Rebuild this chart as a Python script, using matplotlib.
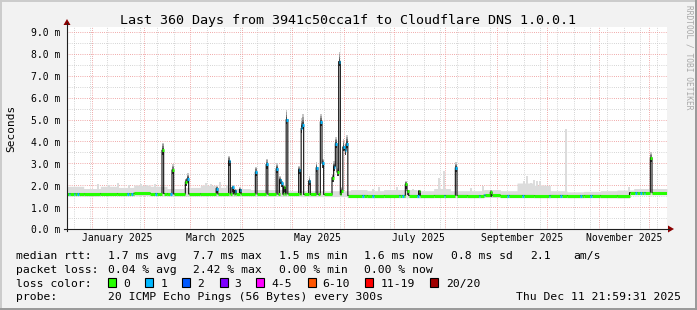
import numpy as np
import matplotlib
matplotlib.use("Agg")
import matplotlib.pyplot as plt
import matplotlib.transforms as mtrans
from matplotlib.patches import Rectangle, Polygon
from matplotlib.lines import Line2D
from datetime import datetime, timedelta

# ---------------- data ----------------
END_TIME = datetime(2025, 12, 11, 21, 59, 31)
SPAN_DAYS = 360
TITLE = "Last 360 Days from 3941c50cca1f to Cloudflare DNS 1.0.0.1"
Y_LABEL = "Seconds"

# baseline median rtt (ms): segment start (day of the 360-day window) and value
base_start = [0, 10, 20, 30, 40, 50, 60, 70, 80, 90, 100, 110, 120, 130, 140, 150, 160,
              168, 180, 190, 200, 210, 220, 230, 240, 250, 260, 270, 280, 290, 300, 310,
              320, 330, 337.4]
base_ms = [1.61, 1.60, 1.62, 1.61, 1.63, 1.62, 1.60, 1.60, 1.61, 1.60, 1.60, 1.60, 1.59,
           1.60, 1.58, 1.58, 1.58,
           1.53, 1.52, 1.53, 1.53, 1.52, 1.53, 1.53, 1.52, 1.54, 1.53, 1.53, 1.52, 1.53,
           1.52, 1.53, 1.52, 1.51, 1.66]

# upper edge of the light smoke, per 10-day block
smoke_top = [1.95, 1.85, 1.95, 1.90, 2.00, 1.95, 1.85, 1.90, 2.00, 1.90, 1.85, 1.80, 1.80,
             1.75, 1.75, 1.75, 1.75,
             1.80, 1.75, 1.80, 1.80, 1.75, 1.85, 1.75, 1.75, 1.80, 1.75, 2.10, 2.00, 1.75,
             1.70, 1.72, 1.75, 1.78, 1.85, 1.85]

# isolated light-smoke peaks
smoke_peak_day = [18.0, 24.6, 30.0, 36.6, 43.8, 47.4, 52.2, 82.8, 85.8, 91.2, 95.4, 183.0,
                  186.6, 197.4, 207.0, 222.6, 225.6, 241.8, 249.0, 273.6, 275.4, 277.8,
                  279.6, 281.4, 283.2, 298.8, 336.6]
smoke_peak_ms = [2.07, 2.00, 2.10, 2.00, 2.05, 2.00, 2.05, 2.10, 2.05, 2.15, 2.00, 1.85,
                 1.90, 1.90, 1.85, 2.35, 2.66, 1.87, 1.95, 2.20, 2.43, 2.10, 2.25, 2.20,
                 2.20, 4.57, 1.90]

# median spikes: day, median (ms), loss bucket, smoke max (ms)
spike_day = [57.0, 63.0, 70.8, 72.0, 89.4, 96.6, 99.0, 100.5, 103.2, 112.8, 119.4, 125.4,
             127.2, 128.4, 129.6, 131.2, 138.6, 140.1, 141.0, 145.0, 149.2, 152.0, 153.0,
             159.0, 159.8, 161.0, 162.0, 163.0, 164.2, 165.4, 166.5, 167.4, 202.8, 203.7,
             210.6, 232.8, 253.8, 349.8]
spike_ms = [3.60, 2.70, 2.15, 2.30, 1.85, 3.10, 1.90, 1.75, 1.80, 2.60, 2.95, 2.75, 2.25,
            2.10, 1.90, 5.00, 2.70, 4.60, 4.75, 2.20, 2.80, 4.90, 3.00, 2.35, 2.85, 3.90,
            2.60, 7.65, 1.75, 3.75, 3.60, 3.90, 2.05, 1.75, 1.72, 2.80, 1.68, 3.25]
spike_loss = [0, 0, 0, 1, 1, 1, 1, 1, 1, 1, 1, 1, 1, 1, 0, 1, 1, 1, 1, 1, 1, 1, 1, 0, 1,
              1, 0, 1, 0, 1, 1, 1, 0, 0, 0, 1, 0, 0]
spike_top = [3.95, 2.95, 2.30, 2.55, 1.95, 3.35, 2.00, 1.85, 1.90, 2.85, 3.20, 3.00, 2.40,
             2.20, 2.00, 5.45, 2.90, 5.05, 5.25, 2.40, 3.05, 5.25, 3.20, 2.50, 3.10, 4.20,
             2.80, 8.10, 1.90, 4.10, 3.90, 4.30, 2.20, 1.80, 1.80, 3.05, 1.80, 3.50]

# days where the baseline median shows 1 lost ping (cyan)
cyan_day = [0.6, 3.6, 6.0, 36.0, 38.4, 52.8, 61.8, 177.0, 183.0, 198.6, 201.0, 210.0,
            225.6, 246.6, 249.6, 264.0, 273.0, 288.6, 295.8, 307.8, 313.8, 340.8, 343.8,
            345.6]

month_labels = ["January 2025", "March 2025", "May 2025", "July 2025",
                "September 2025", "November 2025"]
month_label_dates = [datetime(2025, 1, 16), datetime(2025, 3, 16), datetime(2025, 5, 16),
                     datetime(2025, 7, 16), datetime(2025, 9, 16), datetime(2025, 11, 16)]
y_ticks = [0.0, 1.0, 2.0, 3.0, 4.0, 5.0, 6.0, 7.0, 8.0, 9.0]

rtt_texts = ["1.7 ms avg", "7.7 ms max", "1.5 ms min", "1.6 ms now", "0.8 ms sd", "2.1", "am/s"]
loss_texts = ["0.04 % avg", "2.42 % max", "0.00 % min", "0.00 % now"]
loss_labels = ["0", "1", "2", "3", "4-5", "6-10", "11-19", "20/20"]
loss_colors = ["#26ff00", "#00b8ff", "#0059ff", "#7e00ff", "#ff00ff", "#ff5500",
               "#ff0000", "#a00000"]
probe_text = "20 ICMP Echo Pings (56 Bytes) every 300s"
stamp_text = "Thu Dec 11 21:59:31 2025"

# ---------------- layout / styles ----------------
W, H = 697, 310
L, R, T, B = 67, 667, 27, 229
YMAX = 9.23
MONO = "DejaVu Sans Mono"
BG = "#f2f2f2"

START = END_TIME - timedelta(days=SPAN_DAYS)


def off(d):
    return (d - START).total_seconds() / 86400.0


fig = plt.figure(figsize=(W / 100, H / 100), dpi=100, facecolor=BG)
PX = mtrans.Affine2D().scale(1.0 / W, -1.0 / H).translate(0, 1) + fig.transFigure


def ftext(x, y, s, **kw):
    kw.setdefault("family", MONO)
    kw.setdefault("color", "black")
    fig.text(x / W, 1 - y / H, s, **kw)


ax = fig.add_axes([L / W, 1 - B / H, (R - L) / W, (B - T) / H])
ax.set_facecolor("white")
ax.set_xlim(0, SPAN_DAYS)
ax.set_ylim(0, YMAX)
for s in ax.spines.values():
    s.set_visible(False)

# grid
month_starts = []
d = datetime(START.year, START.month, 1)
while d < END_TIME:
    if d > START:
        month_starts.append(off(d))
    d = datetime(d.year + (d.month == 12), d.month % 12 + 1, 1)
minor_x = []
d = datetime(2024, 12, 21)
while d < END_TIME:
    minor_x.append(off(d))
    d += timedelta(days=10)
ax.set_xticks(month_starts)
ax.set_xticks(minor_x, minor=True)
ax.set_yticks(y_ticks)
ax.set_yticks(np.arange(0.5, YMAX, 1.0), minor=True)
ax.tick_params(which="both", length=0, labelbottom=False, labelleft=False)
dash = (0, (0.72, 1.44))
ax.grid(which="major", color="#ec9090", lw=0.72, linestyle=dash)
ax.grid(which="minor", color="#c8c8c8", lw=0.72, linestyle=dash)
ax.set_axisbelow(True)

# series at 12h resolution
step = 0.5
t = np.arange(0, SPAN_DAYS, step)
seg = np.searchsorted(base_start, t, side="right") - 1
base = np.array(base_ms)[seg]
median = base.copy()
loss = np.zeros(len(t), dtype=int)
for dd in cyan_day:
    loss[(t >= dd - 1e-9) & (t < dd + 1.0 - 1e-9)] = 1
for dd, v, lc in zip(spike_day, spike_ms, spike_loss):
    m = (t >= dd - 1e-9) & (t < dd + 1.0 - 1e-9)
    median[m] = v
    loss[m] = lc

edges = np.append(t, SPAN_DAYS)
smoke_hi = np.array(smoke_top)[(t // 10).astype(int)]
smoke_lo = base - 0.1
SMOKE = "#dcdcdc"
ax.fill_between(edges, np.append(smoke_lo, smoke_lo[-1]), np.append(smoke_hi, smoke_hi[-1]),
                step="post", color=SMOKE, lw=0, zorder=1)
for dd, v in zip(smoke_peak_day, smoke_peak_ms):
    lo = base[min(int(dd / step), len(t) - 1)] - 0.1
    ax.bar(dd, v - lo, bottom=lo, width=1.0, align="edge", color=SMOKE, lw=0, zorder=1)

# smoke around spikes (dark near the median, lighter further away)
shades = ["#4a4a4a", "#747474", "#9e9e9e", "#c6c6c6"]
for dd, v, top in zip(spike_day, spike_ms, spike_top):
    ax.bar(dd, 0.2, bottom=v - 0.2, width=1.0, align="edge", color="#3a3a3a", lw=0, zorder=2)
    span = max(top - v, 0.04)
    for k, c in enumerate(shades):
        ax.bar(dd, span / 4, bottom=v + k * span / 4, width=1.0, align="edge",
               color=c, lw=0, zorder=2)

# thin black median (vertical transitions stay visible)
ax.step(edges, np.append(median, median[-1]), where="post", color="#111111", lw=0.8, zorder=3)

# coloured median segments by loss bucket
n = len(t)
i = 0
while i < n:
    j = i
    while j + 1 < n and median[j + 1] == median[i] and loss[j + 1] == loss[i]:
        j += 1
    ax.hlines(median[i], t[i], t[j] + step, colors=loss_colors[loss[i]], lw=2.2,
              capstyle="butt", zorder=4)
    i = j + 1

# axes lines and arrows
AX = "#202020"
fig.add_artist(Line2D([L, L], [B + 2, T - 4], transform=PX, color=AX, lw=0.8))
fig.add_artist(Line2D([L - 3, R + 2], [B, B], transform=PX, color=AX, lw=0.8))
ARROW = "#8b0000"
fig.add_artist(Polygon([[L - 3.5, T - 2], [L + 3.5, T - 2], [L, T - 8]], closed=True,
                       transform=PX, color=ARROW, lw=0))
fig.add_artist(Polygon([[R + 1, B - 3.5], [R + 1, B + 3.5], [R + 7, B]], closed=True,
                       transform=PX, color=ARROW, lw=0))

# texts
ftext(348, 24, TITLE, fontsize=9.6, ha="center", va="baseline")
ftext(11, 128, Y_LABEL, fontsize=8, ha="center", va="center", rotation=90)
ftext(688.5, 5, "RRDTOOL / TOBI OETIKER", fontsize=5.7, ha="center", va="top",
      rotation=270, color="#a8a8a8")
for v in y_ticks:
    yp = B - v * (B - T) / YMAX
    ftext(60.5, yp + 4.4, f"{v:.1f} m", fontsize=7, ha="right", va="baseline")
for lab, dte in zip(month_labels, month_label_dates):
    xp = L + off(dte) * (R - L) / SPAN_DAYS
    ftext(xp, 241, lab, fontsize=7, ha="center", va="baseline")

LF = 8.2
ftext(16.4, 259, "median rtt:", fontsize=LF, va="baseline")
for s, xp in zip(rtt_texts, [107.6, 192.9, 279, 364.4, 451, 530, 573.3]):
    ftext(xp, 259, s, fontsize=LF, va="baseline")
ftext(16.4, 273, "packet loss:", fontsize=LF, va="baseline")
for s, xp in zip(loss_texts, [107.6, 192.9, 279, 364.4]):
    ftext(xp, 273, s, fontsize=LF, va="baseline")
ftext(16.4, 287, "loss color:", fontsize=LF, va="baseline")
box_x = [108.4, 145.3, 182.2, 219.6, 256.4, 307.6, 365.3, 430.2]
lab_x = [123.6, 160.4, 197.3, 234.2, 271.6, 322.7, 381.0, 445.8]
for s, c, bx, lx in zip(loss_labels, loss_colors, box_x, lab_x):
    fig.add_artist(Rectangle((bx, 277.5), 8, 9, transform=PX, facecolor=c,
                             edgecolor="black", lw=0.8))
    ftext(lx, 287, s, fontsize=LF, va="baseline")
ftext(16.4, 300.5, "probe:", fontsize=LF, va="baseline")
ftext(107.6, 300.5, probe_text, fontsize=LF, va="baseline")
ftext(680.5, 300.5, stamp_text, fontsize=LF, ha="right", va="baseline")

# 3D frame of the image
fig.add_artist(Line2D([0.5, W - 0.5], [0.8, 0.8], transform=PX, color="#cbcbcb", lw=1.4))
fig.add_artist(Line2D([0.8, 0.8], [0.5, H - 0.5], transform=PX, color="#cbcbcb", lw=1.4))
fig.add_artist(Line2D([0.5, W - 0.5], [H - 0.8, H - 0.8], transform=PX, color="#999999", lw=1.4))
fig.add_artist(Line2D([W - 0.8, W - 0.8], [0.5, H - 0.5], transform=PX, color="#999999", lw=1.4))

fig.savefig("out.png", dpi=100, facecolor=BG)
